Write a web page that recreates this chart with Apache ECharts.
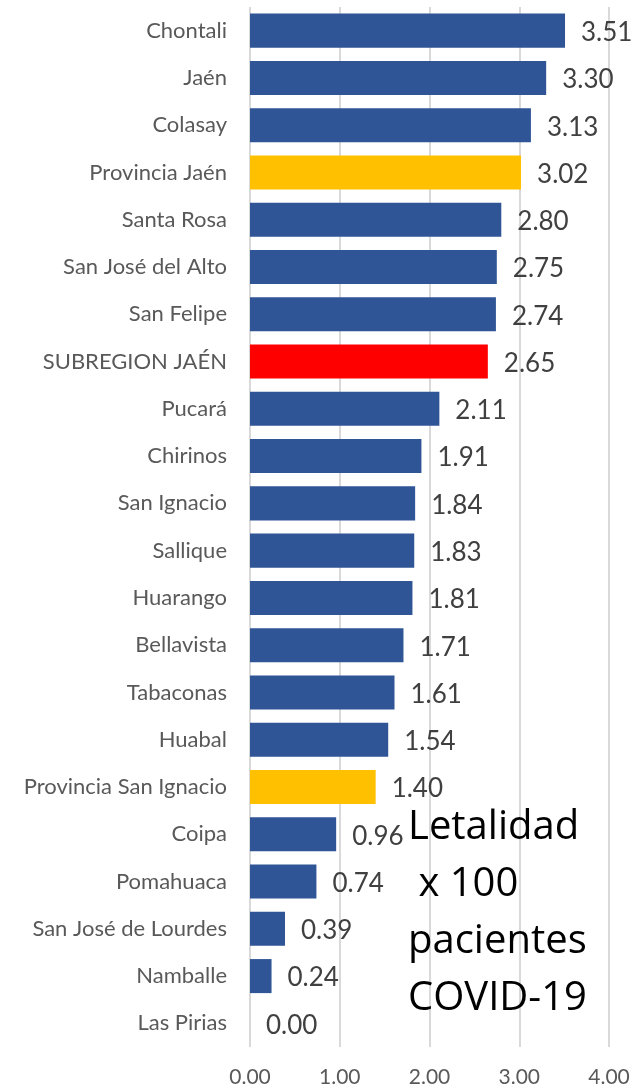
<!DOCTYPE html>
<html>
<head>
<meta charset="utf-8">
<script src="https://cdn.jsdelivr.net/npm/echarts@6/dist/echarts.min.js"></script>
<style>html,body{margin:0;padding:0;background:#fff;}#c{width:639px;height:1089px;}</style>
</head>
<body>
<div id="c"></div>
<script>
const categories = ["Chontali","Jaén","Colasay","Provincia Jaén","Santa Rosa","San José del Alto","San Felipe","SUBREGION JAÉN","Pucará","Chirinos","San Ignacio","Sallique","Huarango","Bellavista","Tabaconas","Huabal","Provincia San Ignacio","Coipa","Pomahuaca","San José de Lourdes","Namballe","Las Pirias"];
const values = [3.51,3.30,3.13,3.02,2.80,2.75,2.74,2.65,2.11,1.91,1.84,1.83,1.81,1.71,1.61,1.54,1.40,0.96,0.74,0.39,0.24,0.00];
const kinds = ["d","d","d","p","d","d","d","s","d","d","d","d","d","d","d","d","p","d","d","d","d","d"];
const xTicks = [0,1,2,3,4];
const annotation = "Letalidad\n x 100\npacientes\nCOVID-19";

const colorOf = {d:"#2F5597", p:"#FFC000", s:"#FF0000"};
const chart = echarts.init(document.getElementById('c'), null, {renderer:'canvas'});
chart.setOption({
  animation:false,
  backgroundColor:'#fff',
  grid:{left:250, right:30, top:7, bottom:42, containLabel:false},
  xAxis:{
    type:'value', min:xTicks[0], max:xTicks[xTicks.length-1], interval:1,
    axisLine:{show:false}, axisTick:{show:false},
    splitLine:{show:true, lineStyle:{color:'#d9d9d9', width:2}},
    axisLabel:{color:'#595959', fontFamily:'Lato', fontSize:21, margin:20, formatter:v=>v.toFixed(2)}
  },
  yAxis:{
    type:'category', data:categories, inverse:true,
    axisLine:{show:false}, axisTick:{show:false},
    axisLabel:{color:'#595959', fontFamily:'Lato', fontSize:22, margin:23}
  },
  series:[{
    type:'bar', barCategoryGap:'28%',
    data:values.map((v,i)=>({value:v, itemStyle:{color:colorOf[kinds[i]]}})),
    label:{show:true, position:'right', distance:16, offset:[0,2], color:'#404040', fontFamily:'Lato', fontSize:26, formatter:p=>p.value.toFixed(2)}
  }],
  graphic:[{
    type:'text', left:408, top:799, z:100,
    style:{text:annotation, fill:'#000', font:'40px "Open Sans"', lineHeight:57}
  }]
});
</script>
</body>
</html>
